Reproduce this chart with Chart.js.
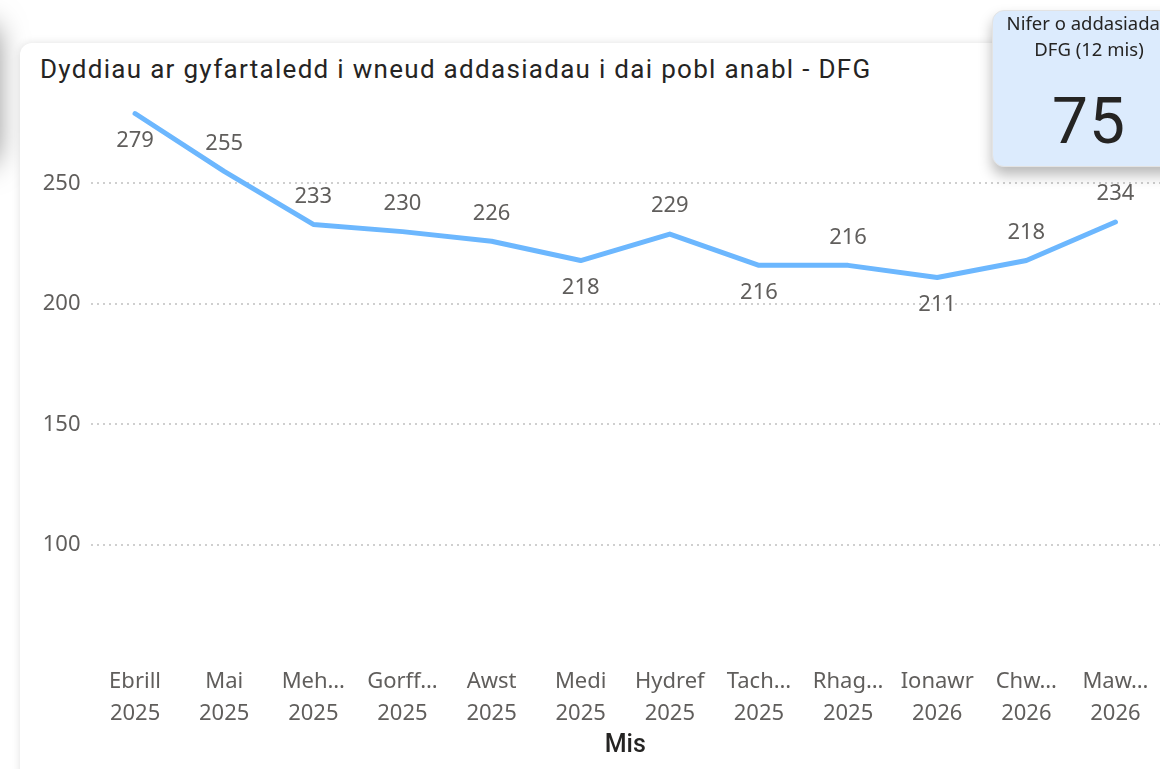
<!DOCTYPE html>
<html>
<head>
<meta charset="utf-8">
<script src="https://cdn.jsdelivr.net/npm/chart.js@4.4.1/dist/chart.umd.min.js"></script>
<style>
    html, body { margin: 0; padding: 0; width: 1160px; height: 769px; overflow: hidden; background: #ffffff; }
    .side-card { position: absolute; left: -204px; top: 25px; width: 200px; height: 138px; background: #fff; border-radius: 12px; box-shadow: 0 0 30px rgba(0,0,0,0.5); }
    .card { position: absolute; left: 20px; top: 43px; width: 1180px; height: 760px; background: #fff; border-radius: 12px; box-shadow: 0 0 8px rgba(0,0,0,0.12); }
    .title { position: absolute; left: 40px; top: 54px; font-family: Roboto, sans-serif; font-size: 26px; line-height: 30px; letter-spacing: 1.3px; color: #252423; white-space: nowrap; }
    #chartWrap { position: absolute; left: 0; top: 0; width: 1160px; height: 769px; }
    .kpi { position: absolute; left: 992px; top: 10px; width: 192px; height: 155px; background: #dcebfd; border: 1px solid #e3e3e3; border-radius: 12px; box-shadow: 0 8px 14px rgba(0,0,0,0.28); font-family: "Noto Sans", sans-serif; color: #252423; text-align: center; overflow: hidden; }
    .kpi .label { margin-top: -1px; font-size: 18.5px; line-height: 26px; white-space: nowrap; }
    .kpi .value { margin-top: 28px; font-family: Roboto, sans-serif; font-size: 64px; line-height: 64px; letter-spacing: 1px; }
</style>
</head>
<body>
<div class="side-card"></div>
<div class="card"></div>
<div class="title">Dyddiau ar gyfartaledd i wneud addasiadau i dai pobl anabl - DFG</div>
<div id="chartWrap"><canvas id="dfgChart" width="1160" height="769"></canvas></div>
<div class="kpi">
    <div class="label">Nifer o addasiadau<br>DFG (12 mis)</div>
    <div class="value">75</div>
</div>

<script>
// Chart data
const months = ['Ebrill', 'Mai', 'Meh…', 'Gorff…', 'Awst', 'Medi', 'Hydref', 'Tach…', 'Rhag…', 'Ionawr', 'Chw…', 'Maw…'];
const years = ['2025', '2025', '2025', '2025', '2025', '2025', '2025', '2025', '2025', '2026', '2026', '2026'];
const avgDays = [279, 255, 233, 230, 226, 218, 229, 216, 216, 211, 218, 234];
const yTicks = [100, 150, 200, 250];
const yMin = 50;
const yMax = 290;

const labelColor = '#605E5C';

// Power BI style data labels: above the point, below on dips or when out of room
const dataLabels = {
    id: 'dataLabels',
    afterDatasetsDraw(chart) {
        const ctx = chart.ctx;
        const meta = chart.getDatasetMeta(0);
        const values = chart.data.datasets[0].data;
        ctx.save();
        ctx.font = '22px "Noto Sans"';
        ctx.fillStyle = labelColor;
        ctx.textAlign = 'center';
        ctx.textBaseline = 'middle';
        meta.data.forEach((pt, i) => {
            const v = values[i];
            const prev = values[i - 1];
            const next = values[i + 1];
            const dip = prev !== undefined && next !== undefined && v < prev && v <= next;
            let y = pt.y - 28;
            if (dip || y - 12 < chart.chartArea.top) {
                y = pt.y + 27;
            }
            ctx.fillText(String(v), pt.x, y);
        });
        ctx.restore();
    }
};

document.addEventListener('DOMContentLoaded', function() {
    const ctx = document.getElementById('dfgChart').getContext('2d');
    new Chart(ctx, {
        type: 'line',
        data: {
            labels: months.map((m, i) => [m, years[i]]),
            datasets: [{
                data: avgDays,
                borderColor: '#6cb7fe',
                borderWidth: 5,
                pointRadius: 0,
                tension: 0,
                borderJoinStyle: 'round',
                borderCapStyle: 'round'
            }]
        },
        options: {
            responsive: false,
            animation: false,
            layout: { padding: { left: 40, right: 0, top: 87, bottom: 0 } },
            plugins: {
                legend: { display: false },
                tooltip: { enabled: false }
            },
            scales: {
                x: {
                    offset: true,
                    grid: { display: false, drawTicks: false },
                    border: { display: false },
                    ticks: {
                        color: labelColor,
                        padding: 0,
                        maxRotation: 0,
                        autoSkip: false,
                        font: { family: 'Noto Sans', size: 22, lineHeight: 1.45 }
                    },
                    title: {
                        display: true,
                        text: 'Mis',
                        color: '#252423',
                        font: { family: 'Roboto', size: 25, weight: '500' },
                        padding: { top: 0, bottom: 8 }
                    },
                    afterFit: function(scale) { scale.height = 103.5; }
                },
                y: {
                    min: yMin,
                    max: yMax,
                    grid: { color: '#cfcfcf', lineWidth: 2, drawTicks: false },
                    border: { display: false, dash: [2, 4] },
                    ticks: {
                        color: labelColor,
                        padding: 10,
                        font: { family: 'Noto Sans', size: 22 }
                    },
                    afterBuildTicks: function(scale) {
                        scale.ticks = yTicks.map(v => ({ value: v }));
                    },
                    afterFit: function(scale) { scale.width = 50.5; }
                }
            }
        },
        plugins: [dataLabels]
    });
});
</script>
</body>
</html>
